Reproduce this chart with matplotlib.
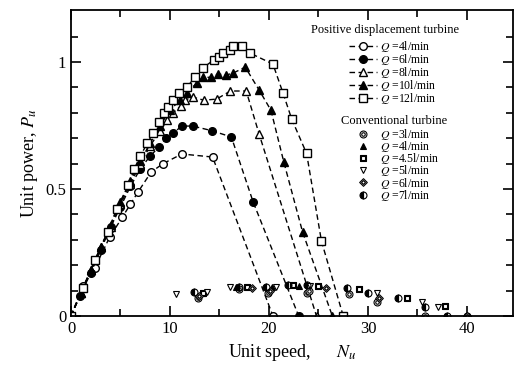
import numpy as np
import matplotlib
matplotlib.use("Agg")
import matplotlib.pyplot as plt
from matplotlib.path import Path

plt.rcParams['font.family'] = ['Liberation Serif', 'DejaVu Serif']
plt.rcParams['mathtext.fontset'] = 'stix'

# positive displacement turbine (dashed lines)
x4 = [0, 1.2, 2.4, 3.9, 5.2, 6.0, 6.8, 8.1, 9.3, 11.2, 14.3, 20.4]
y4 = [0, 0.118, 0.19, 0.31, 0.39, 0.44, 0.49, 0.567, 0.60, 0.638, 0.626, 0]
x6 = [0, 0.9, 2.0, 3.0, 4.0, 5.0, 6.0, 7.0, 8.0, 8.9, 9.6, 10.3, 11.2, 12.3, 14.2, 16.2, 18.4, 23.0]
y6 = [0, 0.079, 0.17, 0.26, 0.35, 0.43, 0.51, 0.58, 0.63, 0.666, 0.70, 0.72, 0.748, 0.748, 0.73, 0.705, 0.449, 0]
x8 = [0, 1.0, 2.0, 3.0, 4.0, 5.0, 6.0, 7.0, 8.0, 9.0, 9.7, 10.3, 11.1, 11.5, 12.3, 13.4, 14.7, 16.1, 17.7, 19.0, 24.8]
y8 = [0, 0.09, 0.18, 0.27, 0.35, 0.44, 0.52, 0.60, 0.67, 0.73, 0.77, 0.80, 0.827, 0.85, 0.862, 0.85, 0.854, 0.886, 0.886, 0.717, 0]
x10 = [0, 1.0, 2.0, 3.0, 4.0, 5.0, 6.0, 7.0, 8.0, 9.0, 10.0, 11.0, 11.7, 12.7, 13.3, 14.1, 14.8, 15.7, 16.4, 17.6, 19.0, 20.2, 21.5, 23.4, 26.4]
y10 = [0, 0.09, 0.18, 0.27, 0.36, 0.45, 0.53, 0.61, 0.68, 0.75, 0.81, 0.85, 0.88, 0.917, 0.94, 0.94, 0.953, 0.949, 0.957, 0.98, 0.89, 0.81, 0.606, 0.33, 0]
x12 = [0, 1.2, 2.4, 3.7, 4.6, 5.8, 6.4, 7.0, 7.7, 8.3, 8.9, 9.4, 9.8, 10.3, 10.9, 11.7, 12.5, 13.3, 14.4, 15.0, 15.4, 16.1, 16.4, 17.3, 18.1, 20.4, 21.4, 22.3, 23.8, 25.3, 27.5]
y12 = [0, 0.11, 0.22, 0.33, 0.42, 0.516, 0.58, 0.63, 0.68, 0.72, 0.764, 0.80, 0.823, 0.85, 0.878, 0.90, 0.94, 0.976, 1.008, 1.02, 1.035, 1.047, 1.063, 1.063, 1.035, 0.992, 0.88, 0.775, 0.64, 0.295, 0]

# conventional turbine (markers only)
cx3 = [12.8, 17.0, 19.9, 23.8, 24.0, 28.1, 30.9, 35.8, 40.0]
cy3 = [0.07, 0.105, 0.09, 0.09, 0.10, 0.087, 0.055, 0.0, 0.0]
cx4 = [13.2, 16.7, 20.3, 23.0]
cy4 = [0.09, 0.115, 0.115, 0.12]
cx45 = [13.3, 17.8, 22.4, 25.0, 29.1, 33.9, 37.8]
cy45 = [0.09, 0.114, 0.122, 0.12, 0.105, 0.07, 0.04]
cx5 = [10.6, 13.7, 16.1, 20.7, 24.1, 30.9, 35.5, 37.1]
cy5 = [0.087, 0.095, 0.114, 0.114, 0.12, 0.09, 0.055, 0.035]
cx6 = [12.9, 18.3, 20.1, 25.8, 31.1, 40.0]
cy6 = [0.08, 0.11, 0.10, 0.11, 0.07, 0.0]
cx7 = [12.4, 17.0, 19.7, 21.9, 23.8, 27.9, 30.0, 33.0, 35.8, 38.0]
cy7 = [0.095, 0.114, 0.114, 0.122, 0.122, 0.11, 0.09, 0.07, 0.035, 0.0]

pd_labels = ['$Q$ =4l/min', '$Q$ =6l/min', '$Q$ =8l/min', '$Q$ =10l/min', '$Q$ =12l/min']
cv_labels = ['$Q$ =3l/min', '$Q$ =4l/min', '$Q$ =4.5l/min', '$Q$ =5l/min', '$Q$ =6l/min', '$Q$ =7l/min']

# double outline markers
def double(p_outer, p_inner):
    return Path.make_compound_path(p_outer, p_inner)

circ2 = double(Path.unit_circle(), Path.circle((0, 0), 0.5))
sq = Path([(-1, -1), (1, -1), (1, 1), (-1, 1), (-1, -1)], closed=True)
sq2 = double(sq, Path(np.array(sq.vertices) * 0.5, closed=True))
dia = Path([(0, -1), (1, 0), (0, 1), (-1, 0), (0, -1)], closed=True)
dia2 = double(dia, Path(np.array(dia.vertices) * 0.5, closed=True))

fig = plt.figure(figsize=(5.14, 3.65), dpi=100)
ax = fig.add_axes([71 / 514, 49 / 365, 442 / 514, 306 / 365])

ls = (0, (4, 2.5))
pd_style = [dict(marker='o', mfc='white'), dict(marker='o', mfc='black'),
            dict(marker='^', mfc='white'), dict(marker='^', mfc='black'),
            dict(marker='s', mfc='white')]
pd_h = []
for (x, y), st, lab in zip([(x4, y4), (x6, y6), (x8, y8), (x10, y10), (x12, y12)], pd_style, pd_labels):
    h, = ax.plot(x, y, color='black', lw=1.0, ls=ls, ms=5.5, mec='black', mew=1.0, label=lab, **st)
    pd_h.append(h)

cv_style = [dict(marker=circ2, mfc='white', ms=5),
            dict(marker='^', mfc='black', ms=4.5),
            dict(marker=sq2, mfc='white', ms=4.5),
            dict(marker='v', mfc='white', ms=5),
            dict(marker=dia2, mfc='white', ms=5.5),
            dict(marker='o', mfc='black', fillstyle='left', ms=5)]
cv_h = []
for (x, y), st, lab in zip([(cx3, cy3), (cx4, cy4), (cx45, cy45), (cx5, cy5), (cx6, cy6), (cx7, cy7)],
                           cv_style, cv_labels):
    h, = ax.plot(x, y, ls='none', mec='black', mew=0.8, color='black', label=lab, **st)
    cv_h.append(h)

ax.set_xlim(0, 44.65)
ax.set_ylim(0, 1.205)
ax.set_xticks([0, 10, 20, 30, 40])
ax.set_xticks(np.arange(5, 45, 10), minor=True)
ax.set_yticks([0, 0.5, 1])
ax.set_yticklabels(['0', '0.5', '1'])
ax.set_yticks(np.arange(0.1, 1.2, 0.1), minor=True)
ax.tick_params(which='both', direction='in', top=True, right=True, labelsize=12, width=1.2)
ax.tick_params(which='major', length=7)
ax.tick_params(which='minor', length=5)
for s in ax.spines.values():
    s.set_linewidth(1.3)

ax.set_xlabel('Unit speed,      $N_u$', fontsize=13)
ax.set_ylabel('Unit power, $P_u$', fontsize=13)

# legend titles as separate texts
ax.text(0.710, 0.935, 'Positive displacement turbine', transform=ax.transAxes,
        ha='center', va='center', fontsize=9)
ax.text(0.731, 0.636, 'Conventional turbine', transform=ax.transAxes,
        ha='center', va='center', fontsize=9)

leg_kw = dict(frameon=False, fontsize=8.5, handlelength=2.4, handletextpad=0.2,
              borderpad=0, borderaxespad=0, loc='upper left')
leg1 = ax.legend(handles=pd_h, bbox_to_anchor=(0.629, 0.905), labelspacing=-0.17, **leg_kw)
ax.add_artist(leg1)
ax.legend(handles=cv_h, bbox_to_anchor=(0.629, 0.618), labelspacing=-0.24, **leg_kw)

fig.savefig('out.png', dpi=100)
